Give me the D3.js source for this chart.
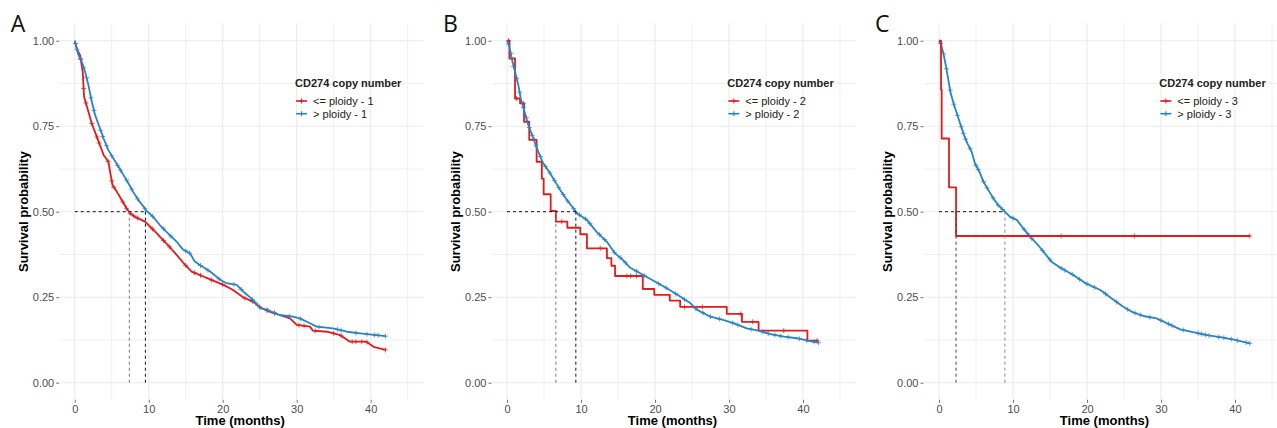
<!DOCTYPE html>
<html><head><meta charset="utf-8">
<script src="https://cdn.jsdelivr.net/npm/d3@7"></script>
<style>body{margin:0;background:#fff}svg{display:block}</style>
</head><body>
<svg id="c" width="1277" height="428"></svg>
<script>
// ---------- text / ticks ----------
const panelLabels = ["A", "B", "C"];
const legendTitle = "CD274 copy number";
const lowLabels = ["<= ploidy - 1", "<= ploidy - 2", "<= ploidy - 3"];
const highLabels = ["> ploidy - 1", "> ploidy - 2", "> ploidy - 3"];
const xTicks = [0, 10, 20, 30, 40];
const xMinor = [5, 15, 25, 35, 45];
const yTicks = [0, 0.25, 0.5, 0.75, 1];
const yTickLabels = ["0.00", "0.25", "0.50", "0.75", "1.00"];
const yMinor = [0.125, 0.375, 0.625, 0.875];
const xTitle = "Time (months)";
const yTitle = "Survival probability";

// ---------- panel A (cut at ploidy - 1) ----------
const lowA = [[0,1],[0.3,0.975],[0.72,0.958],[1.08,0.909],[1.26,0.836],[1.85,0.792],[2.3,0.758],[2.9,0.724],[3.4,0.695],[3.9,0.666],[4.55,0.646],[4.86,0.607],[5.1,0.578],[5.7,0.558],[6.35,0.534],[7.0,0.51],[7.5,0.495],[8.15,0.485],[9.5,0.471],[10.2,0.456],[10.9,0.441],[11.5,0.427],[12.4,0.407],[13.8,0.373],[14.9,0.345],[15.8,0.325],[16.9,0.315],[18.3,0.302],[20.1,0.286],[21.4,0.271],[22.8,0.249],[24.1,0.237],[25.1,0.220],[26.4,0.207],[27.7,0.198],[29.1,0.188],[30.0,0.169],[31.8,0.164],[32.2,0.152],[34.1,0.149],[35.9,0.139],[37.2,0.120],[39.4,0.120],[40.4,0.105],[42,0.096]];
const highA = [[0,1],[0.5,0.958],[0.95,0.939],[1.4,0.909],[1.85,0.870],[2.3,0.822],[2.75,0.783],[3.4,0.744],[3.9,0.714],[4.55,0.680],[5.2,0.656],[5.9,0.632],[6.6,0.607],[7.25,0.583],[7.9,0.558],[8.6,0.534],[9.3,0.515],[9.7,0.502],[10.0,0.497],[10.6,0.485],[11.5,0.461],[12.4,0.441],[13.8,0.412],[14.6,0.390],[15.6,0.378],[16.2,0.355],[16.9,0.344],[18.3,0.325],[19.6,0.302],[20.5,0.291],[21.9,0.286],[22.8,0.266],[24.1,0.242],[25.1,0.217],[26.0,0.213],[27.7,0.198],[29.5,0.193],[30.4,0.188],[31.8,0.174],[32.7,0.164],[34.9,0.159],[36.8,0.149],[38.6,0.144],[42.0,0.136]];
const lowCensA = [0.1,0.8,1.2,1.5,2.3,3.0,3.3,4.5,5.0,5.3,6.5,7.0,7.5,8.0,8.5,10.5,12.0,12.8,15.0,16.2,17.0,18.5,20.0,23.0,24.0,25.0,26.0,27.0,30.3,31.0,32.5,35.0,36.0,37.5,38.0,38.8,39.5,42];
const highCensA = [0.3,0.8,1.2,1.6,2.2,2.6,3.5,3.8,4.3,5.0,5.8,6.2,7.0,7.7,8.5,9.5,10.5,12.0,13.0,15.0,15.5,17.0,18.0,19.5,21.5,22.5,24.0,24.5,26.0,27.0,29.0,30.5,33.0,35.5,36.0,38.0,39.5,40.5,41.0,42];
const mediansA = [7.38, 9.55];

// ---------- panel B (cut at ploidy - 2) ----------
const lowB = [[0,1],[0.32,0.948],[1.08,0.831],[1.76,0.817],[2.3,0.763],[3.0,0.710],[4.0,0.646],[4.7,0.597],[4.95,0.551],[5.9,0.502],[6.6,0.471],[8.15,0.453],[9.9,0.434],[10.8,0.393],[13.5,0.364],[14.1,0.342],[14.6,0.312],[18.35,0.274],[19.9,0.257],[22.0,0.240],[23.4,0.222],[29.7,0.201],[31.75,0.178],[34.0,0.152],[40.6,0.123],[42.1,0.123]];
const highB = [[0,1],[0.3,0.985],[0.63,0.948],[1.08,0.909],[1.53,0.870],[1.85,0.831],[2.43,0.788],[2.88,0.753],[3.56,0.714],[4.23,0.675],[4.9,0.641],[5.7,0.617],[6.5,0.588],[7.2,0.563],[8.1,0.534],[8.96,0.510],[9.5,0.495],[10.8,0.476],[12.1,0.441],[13.5,0.412],[14.6,0.378],[15.5,0.362],[16.6,0.337],[18.0,0.320],[19.8,0.298],[21.6,0.276],[23.4,0.252],[24.8,0.232],[25.7,0.213],[27.5,0.193],[29.3,0.183],[30.6,0.174],[32.4,0.159],[34.0,0.152],[35.6,0.142],[37.4,0.135],[39.2,0.130],[40.6,0.123],[42.1,0.117]];
const lowCensB = [0.2,1.3,2.2,3.7,7.4,12.6,16.2,16.7,17.5,24.0,26.4,31.6,33.2,37.4,41.9];
const highCensB = [0.2,0.5,0.9,1.3,1.7,2.2,2.6,3.0,3.4,3.9,4.5,5.2,5.8,6.4,7.0,7.6,8.2,9.0,9.8,10.6,11.2,12.5,13.2,14.5,15.3,16.0,17.5,18.6,20.5,21.5,22.8,24.0,25.5,26.5,27.5,28.7,30.5,31.2,33.0,34.5,35.3,36.2,37.0,38.0,39.5,40.5,41.5,42.1];
const mediansB = [6.6, 9.3];

// ---------- panel C (cut at ploidy - 3) ----------
const lowC = [[0,1],[0.27,0.857],[0.36,0.714],[1.35,0.571],[2.3,0.429],[42,0.429]];
const highC = [[0,1],[0.25,0.99],[0.59,0.963],[0.95,0.924],[1.26,0.885],[1.58,0.846],[2.03,0.812],[2.48,0.783],[2.93,0.753],[3.38,0.724],[3.83,0.700],[4.41,0.675],[4.86,0.641],[5.45,0.617],[6.0,0.588],[6.67,0.563],[7.34,0.539],[8.0,0.519],[8.9,0.500],[9.6,0.485],[10.5,0.476],[11.4,0.451],[12.3,0.427],[13.2,0.407],[14.3,0.378],[15.2,0.354],[16.35,0.337],[18.15,0.315],[19.7,0.292],[21.8,0.271],[23.3,0.247],[24.9,0.222],[26.0,0.208],[27.6,0.195],[29.4,0.188],[30.8,0.174],[32.6,0.156],[34.8,0.146],[36.2,0.139],[38.4,0.132],[40.0,0.125],[42.0,0.115]];
const lowCensC = [16.5, 26.4, 42.0];
const highCensC = [0.2,0.6,1.0,1.5,2.0,2.5,3.0,3.3,3.6,4.2,5.0,5.3,6.0,6.5,7.3,8.0,8.6,10.0,11.5,12.0,12.5,14.0,15.0,16.5,17.0,18.0,19.0,20.0,21.0,22.5,24.0,25.5,26.5,27.2,28.5,30.0,31.0,31.5,33.0,35.0,35.5,36.0,36.5,37.8,38.5,39.5,40.3,41.5,42.0];
const mediansC = [2.3, 8.9];

// ---------- build ----------
const RED = "#E41A1C", BLUE = "#2A84C3";
const panels = [
  {label: panelLabels[0], low: lowA, high: highA, lowCens: lowCensA, highCens: highCensA, med: mediansA, lowStep: false, left: 59.2, medColors: ["#777", "#111"]},
  {label: panelLabels[1], low: lowB, high: highB, lowCens: lowCensB, highCens: highCensB, med: mediansB, lowStep: true, left: 491.5, medColors: ["#777", "#111"]},
  {label: panelLabels[2], low: lowC, high: highC, lowCens: lowCensC, highCens: highCensC, med: mediansC, lowStep: true, left: 923.5, medColors: ["#444", "#888"]}
];
const svg = d3.select("#c");
const FONT = "'Liberation Sans', Arial, Helvetica, sans-serif";
const pw = 364, pTop = 23.6, pBottom = 399.8;

function evalCurve(pts, t, step) {
  const i = d3.bisector(d => d[0]).right(pts, t) - 1;
  if (i < 0) return pts[0][1];
  if (i >= pts.length - 1 || step) return pts[Math.min(i, pts.length - 1)][1];
  const a = pts[i], b = pts[i + 1];
  return a[1] + (b[1] - a[1]) * (t - a[0]) / (b[0] - a[0]);
}

panels.forEach((p, pi) => {
  const x = d3.scaleLinear().domain([-2.1, 47.1]).range([p.left, p.left + pw]);
  const y = d3.scaleLinear().domain([-0.05, 1.05]).range([pBottom, pTop]);
  const g = svg.append("g");

  // grid
  g.selectAll(".gxm").data(xMinor).join("line")
    .attr("x1", d => x(d)).attr("x2", d => x(d)).attr("y1", pTop).attr("y2", pBottom)
    .attr("stroke", "#F0F0F0").attr("stroke-width", 1);
  g.selectAll(".gym").data(yMinor).join("line")
    .attr("x1", p.left).attr("x2", p.left + pw).attr("y1", d => y(d)).attr("y2", d => y(d))
    .attr("stroke", "#F0F0F0").attr("stroke-width", 1);
  g.selectAll(".gx").data(xTicks).join("line")
    .attr("x1", d => x(d)).attr("x2", d => x(d)).attr("y1", pTop).attr("y2", pBottom)
    .attr("stroke", "#EBEBEB").attr("stroke-width", 1.1);
  g.selectAll(".gy").data(yTicks).join("line")
    .attr("x1", p.left).attr("x2", p.left + pw).attr("y1", d => y(d)).attr("y2", d => y(d))
    .attr("stroke", "#EBEBEB").attr("stroke-width", 1.1);

  // axes
  const yAxis = d3.axisLeft(y).tickValues(yTicks).tickFormat((d, i) => yTickLabels[i]).tickSize(3).tickPadding(2);
  const ya = g.append("g").attr("transform", `translate(${p.left},0)`).call(yAxis);
  const xAxis = d3.axisBottom(x).tickValues(xTicks).tickFormat(d3.format("d")).tickSize(3).tickPadding(2);
  const xa = g.append("g").attr("transform", `translate(0,${pBottom})`).call(xAxis);
  [ya, xa].forEach(a => {
    a.select(".domain").remove();
    a.selectAll(".tick line").attr("stroke", "#333").attr("stroke-width", 0.7);
    a.selectAll(".tick text").attr("fill", "#4D4D4D").style("font-family", FONT).style("font-size", "11px");
  });

  // titles
  g.append("text").attr("x", p.left + pw / 2 - 1).attr("y", 425).attr("text-anchor", "middle")
    .style("font-family", FONT).style("font-size", "13px").style("font-weight", "bold").attr("fill", "#000").text(xTitle);
  g.append("text").attr("transform", `translate(${p.left - 31.5},${(pTop + pBottom) / 2}) rotate(-90)`)
    .attr("text-anchor", "middle").style("font-family", FONT).style("font-size", "13px").style("font-weight", "bold")
    .attr("fill", "#000").text(yTitle);
  g.append("text").attr("x", p.left - 48.5).attr("y", 32).style("font-family", "'Open Sans', 'Noto Sans', sans-serif")
    .style("font-size", "23px").attr("fill", "#111").text(p.label);

  // curves
  const lineLin = d3.line().x(d => x(d[0])).y(d => y(d[1]));
  const lineStep = d3.line().x(d => x(d[0])).y(d => y(d[1])).curve(d3.curveStepAfter);
  const series = [
    {pts: p.low, step: p.lowStep, color: RED, cens: p.lowCens},
    {pts: p.high, step: false, color: BLUE, cens: p.highCens}
  ];
  const drawOrder = pi === 2 ? [1, 0] : [0, 1];
  drawOrder.forEach(si => {
    const s = series[si];
    g.append("path").datum(s.pts).attr("d", s.step ? lineStep : lineLin)
      .attr("fill", "none").attr("stroke", s.color).attr("stroke-width", 1.8).attr("stroke-linejoin", "round");
    const cg = g.append("g").attr("stroke", s.color).attr("stroke-width", 1).attr("stroke-opacity", 0.75);
    s.cens.forEach(t => {
      const cx = x(t), cy = y(evalCurve(s.pts, t, s.step));
      cg.append("path").attr("d", `M${cx - 2.5},${cy}H${cx + 2.5}M${cx},${cy - 2.5}V${cy + 2.5}`);
    });
  });

  // median lines
  const mg = g.append("g").attr("fill", "none").attr("stroke-width", 1).attr("stroke-dasharray", "3,3");
  mg.append("line").attr("x1", x(0)).attr("x2", x(d3.max(p.med))).attr("y1", y(0.5)).attr("y2", y(0.5)).attr("stroke", "#111");
  p.med.forEach((m, i) => {
    mg.append("line").attr("x1", x(m)).attr("x2", x(m)).attr("y1", y(0.5)).attr("y2", y(0)).attr("stroke", p.medColors[i]);
  });

  // legend
  const lx = x(0) + 220.3;
  const lg = g.append("g");
  lg.append("text").attr("x", lx).attr("y", 87).style("font-family", FONT).style("font-size", "11px")
    .style("font-weight", "bold").attr("fill", "#222").text(legendTitle);
  [[lowLabels[pi], RED], [highLabels[pi], BLUE]].forEach((e, i) => {
    const ly = 101 + i * 12.7;
    lg.append("line").attr("x1", lx + 1).attr("x2", lx + 12).attr("y1", ly).attr("y2", ly)
      .attr("stroke", e[1]).attr("stroke-width", 1.6);
    const kx = lx + 6.5;
    lg.append("path").attr("d", `M${kx - 2.5},${ly}H${kx + 2.5}M${kx},${ly - 2.5}V${ly + 2.5}`)
      .attr("stroke", e[1]).attr("stroke-width", 1);
    lg.append("text").attr("x", lx + 18).attr("y", ly + 4).style("font-family", FONT).style("font-size", "11px")
      .attr("fill", "#222").text(e[0]);
  });
});
</script>
</body></html>
